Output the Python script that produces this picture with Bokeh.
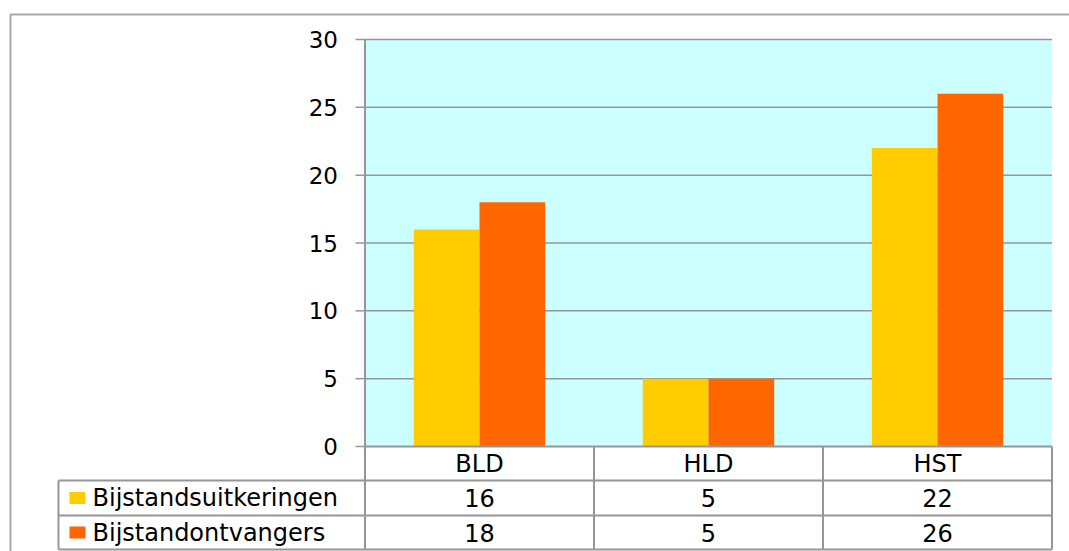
from bokeh.plotting import figure
from bokeh.core.properties import value
from bokeh.embed import file_html
from bokeh.resources import INLINE

# ---- data ----
categories = ["BLD", "HLD", "HST"]
series_names = ["Bijstandsuitkeringen", "Bijstandontvangers"]
uitkeringen = [16, 5, 22]
ontvangers = [18, 5, 26]
y_ticks = [0, 5, 10, 15, 20, 25, 30]
series_colors = ["#FFCC00", "#FF6600"]

# ---- layout (canvas pixels) ----
W, H = 1069, 551
CAT0_PX, CAT_PX = 479.0, 229.0
Y0_PX, Y30_PX = 446.0, 39.0
PPU = (Y0_PX - Y30_PX) / 30.0


def xd(px):
    return (px - CAT0_PX) / CAT_PX


def yd(py):
    return (Y0_PX - py) / PPU


p = figure(width=W, height=H,
           x_range=(xd(0), xd(W)), y_range=(yd(H), yd(0)),
           output_backend="svg", toolbar_location=None,
           x_axis_location=None, y_axis_location=None, title=None,
           min_border=0, background_fill_color="white", border_fill_color="white")
p.outline_line_color = None
p.grid.visible = False

FONT = value("DejaVu Sans")
GRID = "#969696"
n = len(categories)
xs = list(range(n))
plot_l, plot_r = -0.5, n - 0.5
ymax = y_ticks[-1]

# outer chart border
p.line(x=[xd(10), xd(10), xd(1200)], y=[yd(700), yd(14), yd(14)],
       line_color="#a8a8a8", line_width=2)

# plot area background
p.quad(left=[plot_l], right=[plot_r], bottom=[0], top=[ymax],
       fill_color="#CCFFFF", line_color=None)

# gridlines
gt = [t for t in y_ticks if t > 0]
p.segment(x0=[plot_l] * len(gt), x1=[plot_r] * len(gt), y0=gt, y1=gt,
          line_color=GRID, line_width=1.5)

# bars
bw = 0.287
p.vbar(x=[i - bw / 2 for i in xs], top=uitkeringen, bottom=0, width=bw,
       fill_color=series_colors[0], line_color=None)
p.vbar(x=[i + bw / 2 for i in xs], top=ontvangers, bottom=0, width=bw,
       fill_color=series_colors[1], line_color=None)

# y axis line + ticks
p.segment(x0=[plot_l], x1=[plot_l], y0=[0], y1=[ymax], line_color=GRID, line_width=2)
p.segment(x0=[xd(355)] * len(y_ticks), x1=[plot_l] * len(y_ticks), y0=y_ticks, y1=y_ticks,
          line_color=GRID, line_width=1.5)
p.text(x=[plot_l] * len(y_ticks), y=y_ticks, text=[str(t) for t in y_ticks],
       x_offset=-27, text_align="right", text_baseline="middle",
       text_font=FONT, text_font_size="23px", text_color="black")

# data table
rows_px = [Y0_PX, 480.0, 515.0, 549.0]
rows = [yd(r) for r in rows_px]
left_col = xd(58)
hy = rows[1:]
p.segment(x0=[plot_l] + [left_col] * len(hy), x1=[plot_r] * (len(hy) + 1),
          y0=[0] + hy, y1=[0] + hy, line_color=GRID, line_width=2)
vx = [plot_l + k for k in range(n + 1)]
p.segment(x0=vx + [left_col], x1=vx + [left_col],
          y0=[0] * len(vx) + [rows[1]], y1=[rows[-1]] * (len(vx) + 1),
          line_color=GRID, line_width=2)

centers = [(rows[k] + rows[k + 1]) / 2 for k in range(3)]
TS = "24px"
p.text(x=xs, y=[centers[0]] * n, text=categories, text_align="center",
       text_baseline="middle", text_font=FONT, text_font_size=TS, text_color="black")
p.text(x=xs, y=[centers[1]] * n, text=[str(v) for v in uitkeringen], text_align="center",
       text_baseline="middle", text_font=FONT, text_font_size=TS, text_color="black")
p.text(x=xs, y=[centers[2]] * n, text=[str(v) for v in ontvangers], text_align="center",
       text_baseline="middle", text_font=FONT, text_font_size=TS, text_color="black")

# legend keys + names
key_h = 6.0 / PPU
p.quad(left=[xd(69)] * 2, right=[xd(85)] * 2,
       bottom=[c - key_h for c in centers[1:]], top=[c + key_h for c in centers[1:]],
       fill_color=series_colors, line_color=None)
p.text(x=[xd(92)] * 2, y=centers[1:], text=series_names, text_align="left",
       text_baseline="middle", text_font=FONT, text_font_size=TS, text_color="black")

open("out.html", "w").write(file_html(p, INLINE))
